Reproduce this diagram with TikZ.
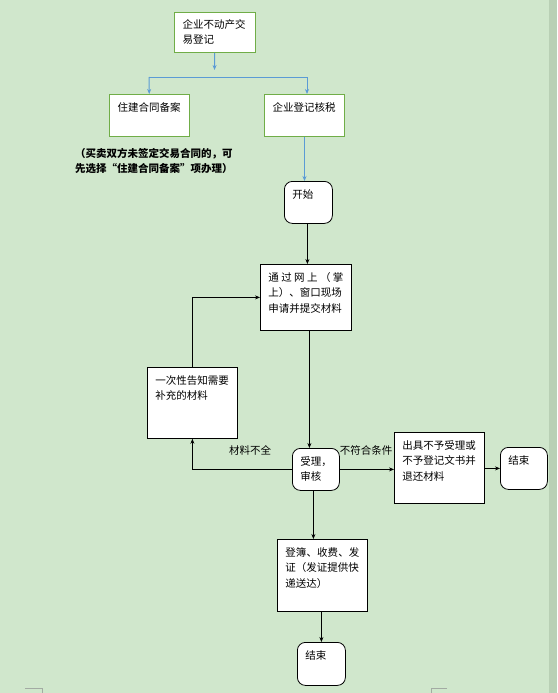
\documentclass[tikz,border=0pt]{standalone}
\usepackage{fontspec}
\usepackage{tikz}
\usetikzlibrary{arrows.meta}
\newfontfamily\cjk{Noto Sans CJK SC}
\definecolor{pagegreen}{HTML}{D0E7CC}
\definecolor{pageedge}{HTML}{B9D0B5}
\definecolor{boxgreen}{HTML}{70AD47}
\definecolor{linkblue}{HTML}{5B9BD5}
\definecolor{markgray}{HTML}{A3ABA3}
\newcommand{\boxtext}[3]{\parbox[c][#2][t]{#1}{\vspace*{8pt}#3}}

\tikzset{
  every node/.style={font=\cjk\fontsize{10.5}{15.5}\selectfont},
  procbox/.style={draw=black, line width=0.8pt, fill=white, anchor=north west,
    inner xsep=8pt, inner ysep=0pt},
  greenbox/.style={procbox, draw=boxgreen, line width=1pt},
  termbox/.style={procbox, rounded corners=8pt},
  flow/.style={-{Stealth[length=5pt,width=4pt]}, line width=0.7pt},
  blueflow/.style={flow, draw=linkblue, line width=1pt},
  lbl/.style={inner sep=0pt}
}

\begin{document}
\begin{tikzpicture}[x=1pt, y=-1pt]
  \useasboundingbox (0,0) rectangle (557,693);
  \fill[pagegreen] (0,0) rectangle (557,693);
  \fill[pageedge] (549,0) rectangle (557,693);
  \draw[markgray, line width=0.8pt] (25,688) -- (42,688) -- (42,693);
  \draw[markgray, line width=0.8pt] (447,688) -- (431,688) -- (431,693);

  % top part: two ways in
  \node[greenbox] (deal) at (174,12) {\boxtext{65pt}{40pt}{\vspace*{-1pt}企业不动产交\\易登记}};
  \node[greenbox] (housing) at (109,94) {\boxtext{64pt}{42pt}{住建合同备案}};
  \node[greenbox] (taxcheck) at (264,94) {\boxtext{64pt}{42pt}{企业登记核税}};
  \node[lbl, anchor=north west, align=left, font=\cjk\bfseries\fontsize{10.5}{15}\selectfont]
    (note) at (75,148) {（买卖双方未签定交易合同的，可\\先选择“住建合同备案”项办理）};

  \coordinate (forkin) at (214.5,70);
  \coordinate (forkl) at (149,77);
  \coordinate (forkr) at (307,77);
  \draw[blueflow] (deal) -- (forkin);
  \draw[linkblue, line width=1pt] (forkl) -- (forkr);
  \draw[blueflow] (forkl) -- (housing);
  \draw[blueflow] (forkr) -- (forkr |- housing.north);

  % main flow
  \node[termbox] (start) at (284,181) {\boxtext{32pt}{42pt}{开始}};
  \node[procbox] (apply) at (260,264) {\boxtext{75pt}{66pt}{%
    \makebox[75pt][s]{通\hfill 过\hfill 网\hfill 上\hfill （\hfill 掌}\\
    上）、窗口现场\\申请并提交材料}};
  \node[termbox] (review) at (292,448) {\boxtext{31pt}{42pt}{受理，\\审核}};
  \node[procbox] (notify) at (147,367) {\boxtext{74pt}{71pt}{一次性告知需要\\补充的材料}};
  \node[procbox] (reject) at (394,432) {\boxtext{74pt}{71pt}{出具不予受理或\\不予登记文书并\\退还材料}};
  \node[termbox] (endright) at (500,447) {\boxtext{31pt}{42pt}{结束}};
  \node[procbox] (register) at (277,539) {\boxtext{74pt}{72pt}{%
    \makebox[74pt][s]{登\hfill 簿\hfill 、\hfill 收\hfill 费\hfill 、\hfill 发}\\
    证（发证提供快\\递送达）}};
  \node[termbox] (endbottom) at (297,642) {\boxtext{32pt}{43pt}{结束}};

  \node[lbl] (short) at (250,450) {材料不全};
  \node[lbl] (unfit) at (366,450) {不符合条件};

  \draw[blueflow] (taxcheck.south) -- (taxcheck.south |- start.north);
  \draw[flow] ([xshift=-1pt]start.south) -- ([xshift=-1pt]start.south |- apply.north);
  \draw[flow] ([xshift=3.5pt]apply.south) -- ([xshift=3.5pt]apply.south |- review.north);
  \draw[flow] (review.west) -| (notify.south);
  \draw[flow] (notify.north) |- (apply.west);
  \draw[flow] (review.east) -- (review.east -| reject.west);
  \draw[flow] (reject.east |- endright.west) -- (endright.west);
  \draw[flow] ([xshift=-2.5pt]review.south) -- ([xshift=-2.5pt]review.south |- register.north);
  \draw[flow] (register.south -| endbottom.north) -- (endbottom.north);
\end{tikzpicture}
\end{document}
